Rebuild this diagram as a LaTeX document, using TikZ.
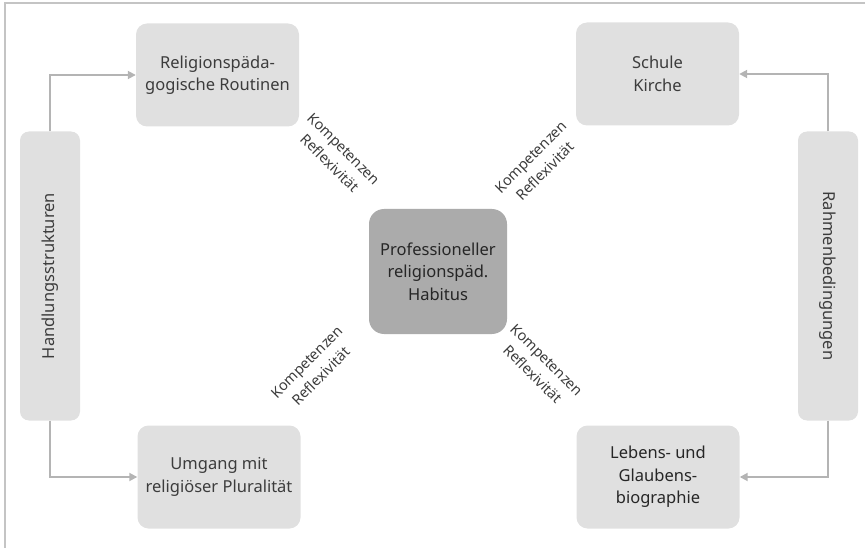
\documentclass[tikz,border=0pt]{standalone}
\usepackage{fontspec}
\setmainfont{Noto Sans}
\usetikzlibrary{arrows.meta}
\definecolor{boxfill}{HTML}{E0E0E0}
\definecolor{centerfill}{HTML}{ABABAB}
\definecolor{linegray}{HTML}{B4B4B4}
\definecolor{framegray}{HTML}{C4C4C4}
\definecolor{txtgray}{HTML}{3C3C3C}
\tikzset{
  outerbox/.style={fill=boxfill, draw=none, rounded corners=11pt, minimum width=163pt, minimum height=103pt, align=center, text=txtgray, font=\fontsize{16.5}{22.5}\selectfont, inner sep=0pt},
  centerbox/.style={fill=centerfill, draw=none, rounded corners=15pt, minimum width=138pt, minimum height=125pt, align=center, text=black!85, font=\fontsize{16.5}{22.5}\selectfont, inner sep=0pt},
  sidebar/.style={fill=boxfill, draw=none, rounded corners=9pt, minimum width=289pt, minimum height=60pt, text=txtgray, font=\fontsize{16.5}{22}\selectfont, inner sep=0pt},
  difflabel/.style={align=center, text=txtgray, font=\fontsize{14.5}{20}\selectfont, inner sep=0pt},
  flow/.style={draw=linegray, line width=1.8pt, -{Triangle[length=8pt,width=8pt]}},
}
\begin{document}
\begin{tikzpicture}[x=1pt,y=-1pt]
\useasboundingbox (0,0) rectangle (865,548);
\draw[framegray, line width=1.6pt] (5,548) -- (5,3) -- (865,3);

\node[outerbox] (tl) at (217.5,75) {Religionspäda-\\gogische Routinen};
\node[outerbox] (tr) at (657.5,74) {Schule\\Kirche};
\node[outerbox] (bl) at (219,477) {Umgang mit\\religiöser Pluralität};
\node[outerbox, text=black!85] (br) at (658,477) {Lebens- und\\Glaubens-\\biographie};
\node[centerbox] (c) at (438,271.5) {Professioneller\\religionspäd.\\Habitus};

\node[sidebar, rotate=90] (lb) at (50,276) {Handlungsstrukturen};
\node[sidebar, rotate=-90] (rb) at (828,276) {Rahmenbedingungen};

\draw[flow] (lb.east) |- (tl.west);
\draw[flow] (lb.west) |- (bl.west);
\draw[flow] (rb.west) |- (tr.east);
\draw[flow] (rb.east) |- (br.east);

\node[difflabel, rotate=-45] (ltl) at (337,156) {Kompetenzen\\Reflexivität};
\node[difflabel, rotate=45] (ltr) at (538,164) {Kompetenzen\\Reflexivität};
\node[difflabel, rotate=45] (lbl) at (314,369) {Kompetenzen\\Reflexivität};
\node[difflabel, rotate=-45] (lbr) at (540,367) {Kompetenzen\\Reflexivität};
\end{tikzpicture}
\end{document}
